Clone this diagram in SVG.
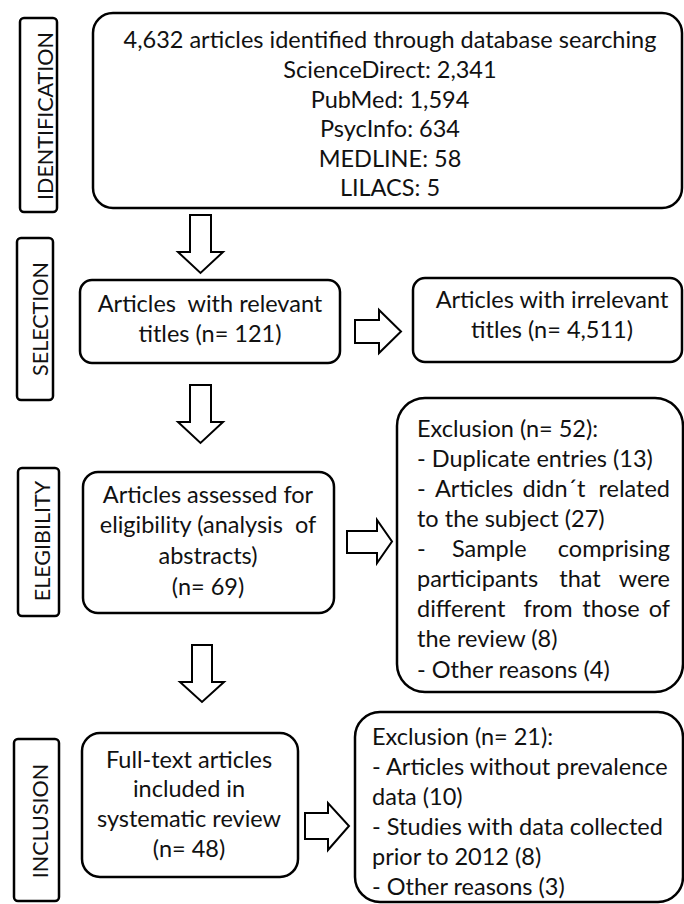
<svg xmlns="http://www.w3.org/2000/svg" width="684" height="904" viewBox="0 0 684 904">
<style>
.box{fill:#fff;stroke:#000;stroke-width:2.5}
.lab{fill:#fff;stroke:#000;stroke-width:2.5}
.arr{fill:#fff;stroke:#000;stroke-width:2;stroke-linejoin:miter}
text{font-family:Lato,"Open Sans",sans-serif;font-size:23.5px;fill:#111}
.c{text-anchor:middle}
.e{text-anchor:end}
.v{text-anchor:middle;font-size:21.5px}
</style>
<rect width="684" height="904" fill="#fff"/>
<g id="label-identification"><rect class="lab" x="20" y="18" width="37" height="194" rx="4"/><text class="v" transform="translate(53,116) rotate(-90)">IDENTIFICATION</text></g>
<g id="label-selection"><rect class="lab" x="17" y="238" width="36" height="162" rx="4"/><text class="v" transform="translate(48,319) rotate(-90)">SELECTION</text></g>
<g id="label-elegibility"><rect class="lab" x="18" y="468" width="41" height="148" rx="4"/><text class="v" transform="translate(50,541) rotate(-90)">ELEGIBILITY</text></g>
<g id="label-inclusion"><rect class="lab" x="14" y="739" width="45" height="162" rx="4"/><text class="v" transform="translate(48,821) rotate(-90)">INCLUSION</text></g>

<g id="identified"><rect class="box" x="93" y="13" width="589" height="195" rx="20"/>
<text class="c" x="390" y="48">4,632 articles identified through database searching</text>
<text class="c" x="390" y="78">ScienceDirect: 2,341</text>
<text class="c" x="390" y="108">PubMed: 1,594</text>
<text class="c" x="390" y="137">PsycInfo: 634</text>
<text class="c" x="390" y="167">MEDLINE: 58</text>
<text class="c" x="390" y="196">LILACS: 5</text></g>

<g id="relevant"><rect class="box" x="80" y="280" width="260" height="83" rx="12"/>
<text class="c" x="210" y="312" xml:space="preserve">Articles  with relevant</text>
<text class="c" x="210" y="342">titles (n= 121)</text></g>

<g id="irrelevant"><rect class="box" x="413" y="278" width="269" height="84" rx="12"/>
<text class="c" x="552" y="308">Articles with irrelevant</text>
<text class="c" x="552" y="338">titles (n= 4,511)</text></g>

<g id="eligibility"><rect class="box" x="83" y="472" width="251" height="141" rx="15"/>
<text class="c" x="208" y="503">Articles assessed for</text>
<text class="c" x="208" y="533" xml:space="preserve">eligibility (analysis  of</text>
<text class="c" x="208" y="564">abstracts)</text>
<text class="c" x="208" y="595">(n= 69)</text></g>

<g id="exclusion-52"><rect class="box" x="397" y="398" width="286" height="294" rx="28"/>
<text x="417" y="437">Exclusion (n= 52):</text>
<text x="417" y="467">- Duplicate entries (13)</text>
<text x="417" y="497">-</text><text x="435" y="497">Articles</text><text class="c" x="554" y="497">didn´t</text><text class="e" x="670" y="497">related</text>
<text x="417" y="527">to the subject (27)</text>
<text x="417" y="557">-</text><text x="452" y="557">Sample</text><text class="e" x="670" y="557">comprising</text>
<text x="417" y="587">participants</text><text class="c" x="580" y="587">that</text><text class="e" x="670" y="587">were</text>
<text x="417" y="617">different</text><text class="c" x="548" y="617">from</text><text class="c" x="611" y="617">those</text><text class="e" x="670" y="617">of</text>
<text x="417" y="647">the review (8)</text>
<text x="417" y="678">- Other reasons (4)</text></g>

<g id="included"><rect class="box" x="82" y="733" width="216" height="144" rx="18"/>
<text class="c" x="189" y="768">Full-text articles</text>
<text class="c" x="189" y="797">included in</text>
<text class="c" x="189" y="827">systematic review</text>
<text class="c" x="189" y="857">(n= 48)</text></g>

<g id="exclusion-21"><rect class="box" x="355" y="712" width="328" height="190" rx="25"/>
<text x="372" y="745">Exclusion (n= 21):</text>
<text x="372" y="775">- Articles without prevalence</text>
<text x="372" y="805">data (10)</text>
<text x="372" y="835">- Studies with data collected</text>
<text x="372" y="865">prior to 2012 (8)</text>
<text x="372" y="895">- Other reasons (3)</text></g>

<g id="connectors">
<polygon class="arr" points="190,215 211,215 211,252 223,252 200.5,273 178,252 190,252"/>
<polygon class="arr" points="190,385 211,385 211,422 223,422 200.5,443 178,422 190,422"/>
<polygon class="arr" points="192,645 212,645 212,682 224,682 202,702 180,682 192,682"/>
<polygon class="arr" points="355,320 379,320 379,310 401,331.5 379,353 379,343 355,343"/>
<polygon class="arr" points="347,531 377,531 377,520 392,541.5 377,563 377,553 347,553"/>
<polygon class="arr" points="305,813 328,813 328,803 349,826 328,850 328,839 305,839"/>
</g>
</svg>
